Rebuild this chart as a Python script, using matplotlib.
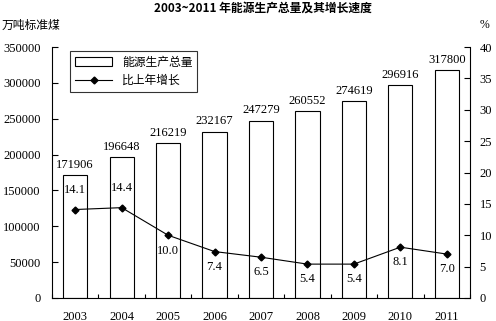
import matplotlib
matplotlib.use("Agg")
import matplotlib.pyplot as plt
from matplotlib.patches import Patch
from matplotlib.lines import Line2D
import numpy as np

years = ["2003", "2004", "2005", "2006", "2007", "2008", "2009", "2010", "2011"]
production = [171906, 196648, 216219, 232167, 247279, 260552, 274619, 296916, 317800]
growth = [14.1, 14.4, 10.0, 7.4, 6.5, 5.4, 5.4, 8.1, 7.0]
growth_label_above = [True, True, False, False, False, False, False, False, False]
left_ticks = [0, 50000, 100000, 150000, 200000, 250000, 300000, 350000]
right_ticks = [0, 5, 10, 15, 20, 25, 30, 35, 40]

cjk = ["Noto Sans CJK SC", "DejaVu Sans"]
serif = ["Liberation Serif", "DejaVu Serif"]

fig = plt.figure(figsize=(4.96, 3.21), dpi=100)
ax = fig.add_axes([52/496, 1-298/321, (470-52)/496, (298-47)/321])
x = np.arange(len(years))

ax.bar(x, production, width=0.52, facecolor="white", edgecolor="black", linewidth=0.8, zorder=2)
for xi, v in zip(x, production):
    ax.annotate(f"{v}", (xi, v), xytext=(0, 3), textcoords="offset points",
                ha="center", va="bottom", fontsize=9, family=serif)

ax.set_xlim(-0.5, len(years) - 0.5)
ax.set_ylim(0, 350000)
ax.set_yticks(left_ticks)
ax.set_yticklabels([str(t) for t in left_ticks], family=serif, fontsize=9)
ax.set_xticks(x)
ax.set_xticklabels(years, family=serif, fontsize=9)
ax.set_xticks(np.arange(len(years) + 1) - 0.5, minor=True)
ax.tick_params(axis="x", which="major", length=0, pad=9)
ax.tick_params(axis="x", which="minor", length=3, direction="in", width=0.8)
ax.tick_params(axis="y", direction="in", length=4, width=0.8, pad=8)
ax.spines["top"].set_visible(False)
ax.spines["left"].set_linewidth(0.8)
ax.spines["bottom"].set_linewidth(0.8)
ax.spines["right"].set_visible(False)

ax2 = ax.twinx()
ax2.set_ylim(0, 40)
ax2.set_yticks(right_ticks)
ax2.set_yticklabels([str(t) for t in right_ticks], family=serif, fontsize=9)
ax2.tick_params(axis="y", direction="in", length=4, width=0.8, pad=7)
ax2.spines["top"].set_visible(False)
ax2.spines["left"].set_visible(False)
ax2.spines["bottom"].set_visible(False)
ax2.spines["right"].set_linewidth(0.8)
ax2.plot(x, growth, color="black", linewidth=0.8, marker="D", markersize=3.5, zorder=3)
for xi, v, above in zip(x, growth, growth_label_above):
    off = 14 if above else -11
    ax2.annotate(f"{v:.1f}", (xi, v), xytext=(0, off), textcoords="offset points",
                 ha="center", va="center", fontsize=9, family=serif)

handles = [Patch(facecolor="white", edgecolor="black", linewidth=0.8),
           Line2D([0], [0], color="black", linewidth=0.8, marker="D", markersize=3.5)]
leg = ax.legend(handles, ["能源生产总量", "比上年增长"], loc="upper left",
                bbox_to_anchor=(0.043, 0.984), borderaxespad=0,
                prop={"family": cjk, "size": 8.5},
                frameon=True, fancybox=False, edgecolor="black", handlelength=3.2,
                borderpad=0.4, labelspacing=0.45)
leg.get_frame().set_linewidth(0.8)

fig.text(263/496, 1-8/321, "2003~2011 年能源生产总量及其增长速度", ha="center", va="center",
         fontsize=8.5, fontweight="bold", family=cjk)
fig.text(2/496, 1-25/321, "万吨标准煤", ha="left", va="center", fontsize=8.5, family=cjk)
fig.text(484/496, 1-25/321, "%", ha="center", va="center", fontsize=8.5, family=serif)

fig.savefig("out.png", dpi=100)
